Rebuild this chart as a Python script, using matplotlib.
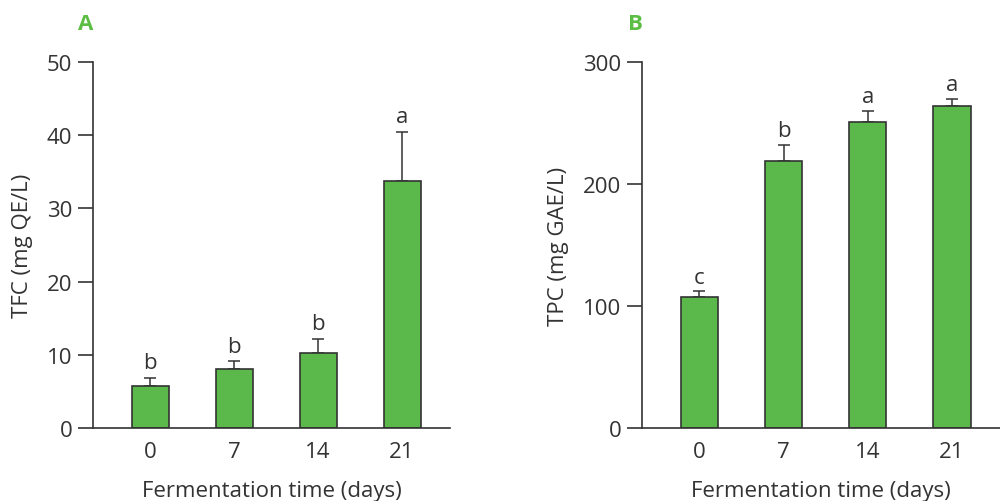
import matplotlib.pyplot as plt
import numpy as np

plt.rcParams['font.family'] = ['Open Sans', 'DejaVu Sans']

days = ["0", "7", "14", "21"]

tfc = [5.8, 8.0, 10.2, 33.8]
tfc_err = [1.1, 1.1, 2.0, 6.7]
tfc_letters = ["b", "b", "b", "a"]

tpc = [107, 219, 251, 264]
tpc_err = [5, 13, 9, 6]
tpc_letters = ["c", "b", "a", "a"]

bar_color = "#5ab94a"
dark = "#333333"
label_green = "#5cbd45"

fig = plt.figure(figsize=(10, 5.02), dpi=100)
ax1 = fig.add_axes([0.093, 0.1454, 0.357, 0.729])
ax2 = fig.add_axes([0.642, 0.1454, 0.358, 0.729])


def draw_panel(ax, vals, errs, letters, ymax, step, ylabel, pad):
    x = np.arange(len(vals))
    ax.bar(x, vals, width=0.44, color=bar_color, edgecolor=dark, linewidth=1.2, zorder=2)
    ax.errorbar(x, vals, yerr=[np.zeros(len(errs)), errs], fmt="none",
                ecolor=dark, elinewidth=1.1, capsize=4, capthick=1.1, zorder=1)
    for xi, v, e, l in zip(x, vals, errs, letters):
        ax.text(xi, v + e + pad, l, ha="center", va="bottom", fontsize=16, color=dark)
    ax.set_xlim(-0.68, 3.57)
    ax.set_ylim(0, ymax)
    ax.set_yticks(np.arange(0, ymax + 1, step))
    ax.set_xticks(x)
    ax.set_xticklabels(days)
    ax.spines["top"].set_visible(False)
    ax.spines["right"].set_visible(False)
    for s in ["left", "bottom"]:
        ax.spines[s].set_color(dark)
        ax.spines[s].set_linewidth(1.2)
    ax.tick_params(axis="y", direction="out", length=11, width=1.2, color=dark,
                   labelsize=16, labelcolor=dark, pad=4)
    ax.tick_params(axis="x", length=0, labelsize=16, labelcolor=dark, pad=9)
    ax.set_ylabel(ylabel, fontsize=16, color=dark, labelpad=10)
    ax.set_xlabel("Fermentation time (days)", fontsize=16, color=dark, labelpad=13)


draw_panel(ax1, tfc, tfc_err, tfc_letters, 50, 10, "TFC (mg QE/L)", 0.6)
draw_panel(ax2, tpc, tpc_err, tpc_letters, 300, 100, "TPC (mg GAE/L)", 3)

fig.text(0.086, 0.952, "A", fontsize=16, fontweight="bold", color=label_green, ha="center", va="center")
fig.text(0.635, 0.952, "B", fontsize=16, fontweight="bold", color=label_green, ha="center", va="center")

fig.savefig("out.png", dpi=100)
